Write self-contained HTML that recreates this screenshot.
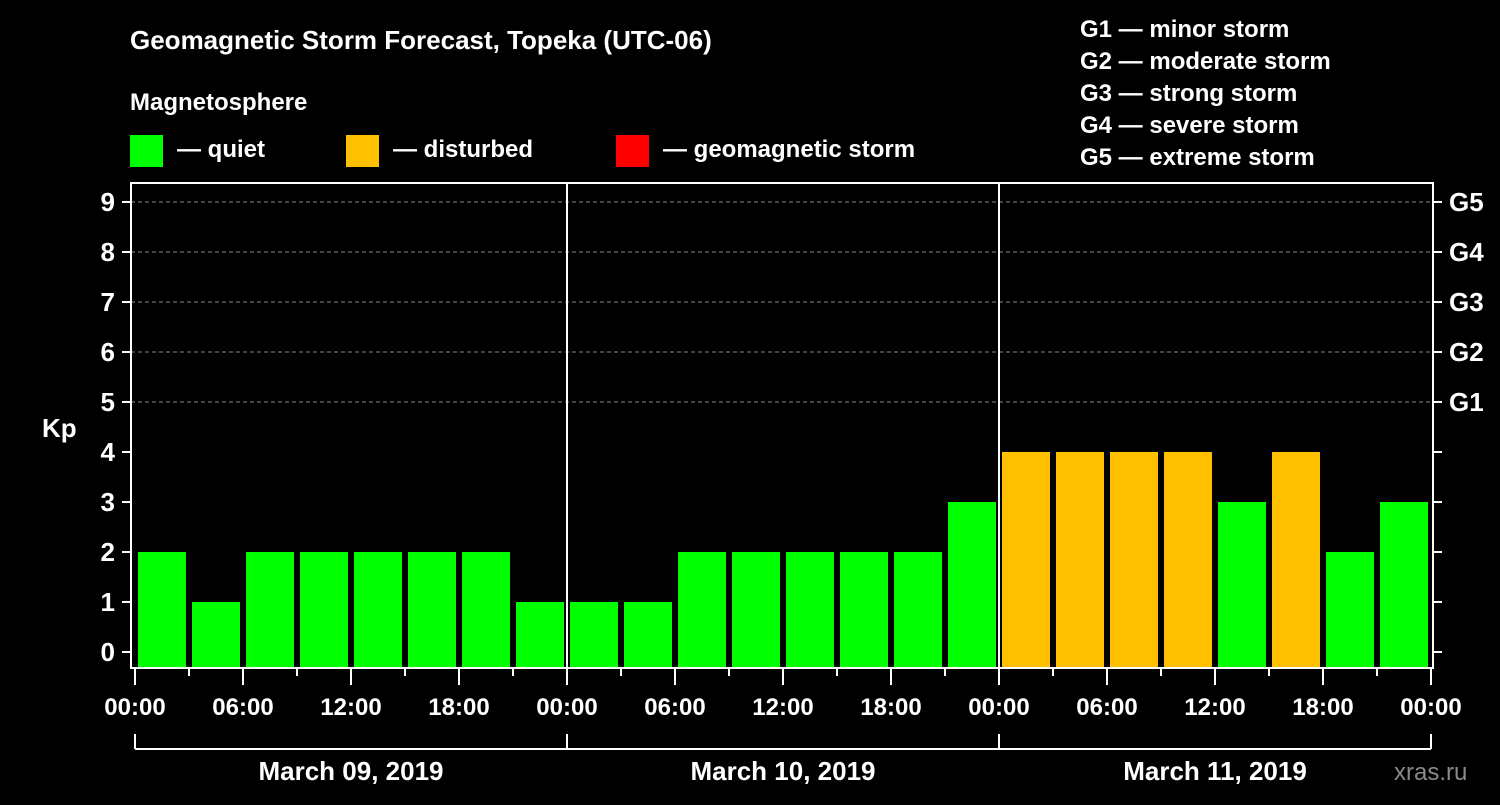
<!DOCTYPE html>
<html><head><meta charset="utf-8"><style>
body{margin:0;background:#000;width:1500px;height:800px;overflow:hidden}
svg text{font-family:"Liberation Sans",sans-serif;font-weight:bold;fill:#fff}
</style></head><body>
<svg id="c" width="1500" height="800">
<text x="130" y="49" font-size="26">Geomagnetic Storm Forecast, Topeka (UTC-06)</text>
<text x="130" y="110" font-size="24">Magnetosphere</text>
<g><rect x="130" y="135" width="33" height="32" fill="#00ff00"/><text x="177" y="157" font-size="24">— quiet</text></g>
<g><rect x="346" y="135" width="33" height="32" fill="#ffc000"/><text x="393" y="157" font-size="24">— disturbed</text></g>
<g><rect x="616" y="135" width="33" height="32" fill="#ff0000"/><text x="663" y="157" font-size="24">— geomagnetic storm</text></g>
<g font-size="24">
<text x="1080" y="37">G1 — minor storm</text>
<text x="1080" y="69">G2 — moderate storm</text>
<text x="1080" y="101">G3 — strong storm</text>
<text x="1080" y="133">G4 — severe storm</text>
<text x="1080" y="165">G5 — extreme storm</text>
</g>
<text x="42" y="437" font-size="26">Kp</text>
<text x="1394" y="780" font-size="24" fill="#888" style="fill:#8a8a8a;font-weight:normal">xras.ru</text>
<g id="plot"></g>
</svg>
<script>
const days=["March 09, 2019","March 10, 2019","March 11, 2019"];
const kp=[2,1,2,2,2,2,2,1, 1,1,2,2,2,2,2,3, 4,4,4,4,3,4,2,3];
const hourLabels=["00:00","06:00","12:00","18:00"];
const gLabels=["G1","G2","G3","G4","G5"];
const L=131,R=1433,T=183,B=668,X0=135,DAYW=432;
const y=v=>652-50*v;
const x=h=>X0+h*DAYW/24;
const ns="http://www.w3.org/2000/svg",g=document.getElementById('plot');
function mk(t,a,txt){const e=document.createElementNS(ns,t);for(const k in a)e.setAttribute(k,a[k]);if(txt!=null)e.textContent=txt;g.appendChild(e);return e;}
for(let v=5;v<=9;v++){const e=mk('line',{x1:L,x2:R,y1:y(v),y2:y(v),stroke:'#888','stroke-dasharray':'4,3','stroke-width':1});

}
kp.forEach((v,i)=>{const col=v>=5?'#ff0000':v>=4?'#ffc000':'#00ff00';
const e=mk('rect',{x:x(i*3)+3,y:y(v),width:48,height:B-y(v),fill:col});

});
for(let d=1;d<days.length;d++){const e=mk('line',{x1:x(d*24),x2:x(d*24),y1:T,y2:B,stroke:'#fff','stroke-width':2});

}
const f=mk('rect',{x:L,y:T,width:R-L,height:B-T,fill:'none',stroke:'#fff','stroke-width':2});


for(let v=0;v<=9;v++){mk('line',{x1:L-9,x2:L,y1:y(v),y2:y(v),stroke:'#fff','stroke-width':2});
mk('line',{x1:R,x2:R+9,y1:y(v),y2:y(v),stroke:'#fff','stroke-width':2});
const t=mk('text',{x:L-16,y:y(v)+9,'font-size':26,'text-anchor':'end'},v);

}
gLabels.forEach((s,i)=>{const t=mk('text',{x:1449,y:y(5+i)+9,'font-size':26},s);

});
for(let h=0;h<=72;h+=3){mk('line',{x1:x(h),x2:x(h),y1:B,y2:h%6==0?685:676,stroke:'#fff','stroke-width':2});}
for(let h=0;h<=72;h+=6){const t=mk('text',{x:x(h),y:715,'font-size':24,'text-anchor':'middle'},hourLabels[(h/6)%4]);

}
mk('line',{x1:x(0),x2:x(72),y1:749,y2:749,stroke:'#fff','stroke-width':2});
for(let d=0;d<=days.length;d++)mk('line',{x1:x(d*24),x2:x(d*24),y1:734,y2:749,stroke:'#fff','stroke-width':2});
days.forEach((s,d)=>{const t=mk('text',{x:x(d*24+12),y:780,'font-size':26,'text-anchor':'middle'},s);

});
</script>
</body></html>
